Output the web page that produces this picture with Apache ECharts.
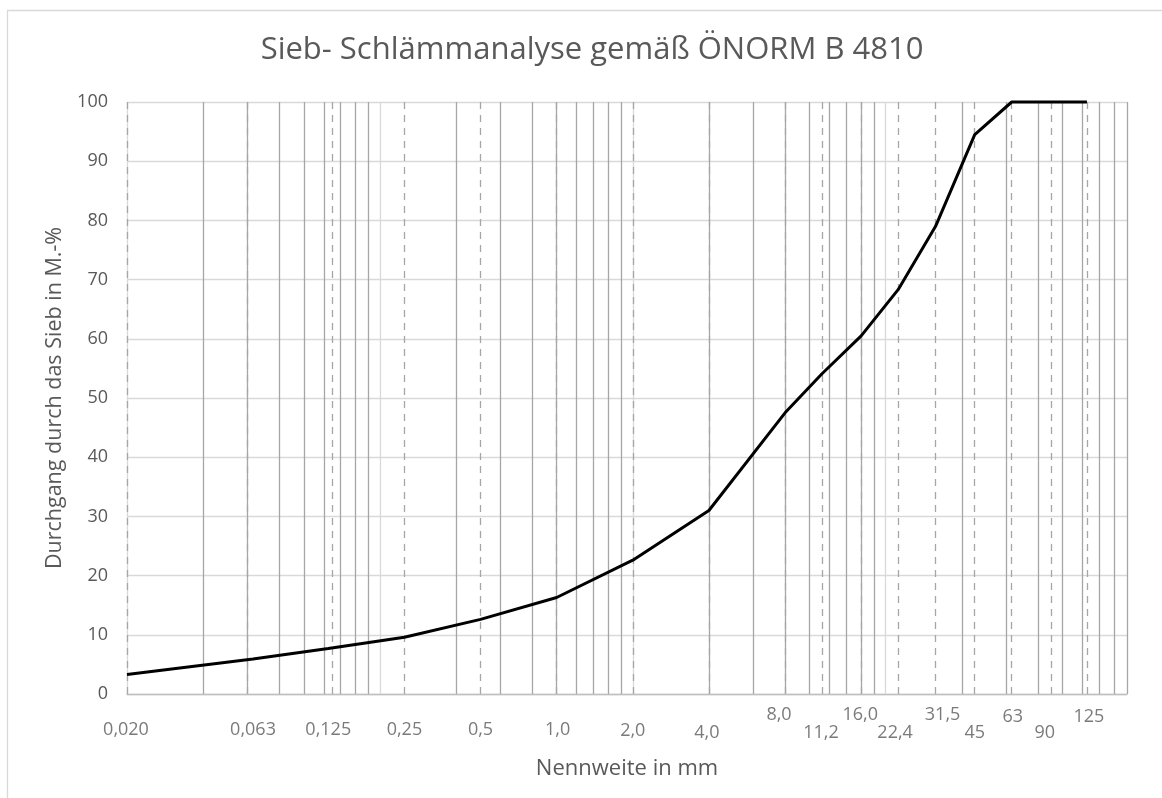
<!DOCTYPE html>
<html>
<head>
<meta charset="utf-8">
<script src="https://cdn.jsdelivr.net/npm/echarts@6/dist/echarts.min.js"></script>
<style>
html,body{margin:0;padding:0;background:#fff;}
#chart{width:1162px;height:798px;}
</style>
</head>
<body>
<div id="chart"></div>
<script>
// Sieve sizes (mm) and passing percentages
const sieves = [0.02, 0.063, 0.125, 0.25, 0.5, 1.0, 2.0, 4.0, 8.0, 11.2, 16.0, 22.4, 31.5, 45, 63, 90, 125];
const passing = [3.3, 5.9, 7.7, 9.6, 12.6, 16.3, 22.6, 31.0, 47.5, 54.1, 60.5, 68.3, 79.0, 94.5, 100, 100, 100];
const sieveLabels = ['0,020','0,063','0,125','0,25','0,5','1,0','2,0','4,0','8,0','11,2','16,0','22,4','31,5','45','63','90','125'];
// gridline positions of the log axis
const majorGrid = [0.02, 0.2, 2, 20];
const minorGrid = [0.04,0.06,0.08,0.1,0.12,0.14,0.16,0.18,
                   0.4,0.6,0.8,1.0,1.2,1.4,1.6,1.8,
                   4,6,8,10,12,14,16,18,
                   40,60,80,100,120,140,160,180];

// label placement (pixel offsets, style only)
const labelOffsets = [[-1,36],[0,36],[0,36],[0,36],[0,36],[1,36],[0,37],[-2,39],[-6,21],[-1,39],[-1,21],[-3,39],[7,21],[0,39],[1,23],[-6,39],[2,23]];

const grey = '#595959';
const chart = echarts.init(document.getElementById('chart'));

function vlines(values, style, z) {
  return {
    type: 'line', data: [], z: z, silent: true,
    markLine: {
      silent: true, symbol: 'none', animation: false,
      label: {show: false},
      lineStyle: style,
      data: values.map(v => ({xAxis: v}))
    }
  };
}

chart.setOption({
  animation: false,
  textStyle: {fontFamily: 'Open Sans'},
  title: {
    text: 'Sieb- Schlämmanalyse gemäß ÖNORM B 4810',
    left: 587, top: 30, textAlign: 'center',
    textStyle: {fontFamily: 'Open Sans', fontSize: 31, fontWeight: 'normal', color: grey}
  },
  graphic: [{
    type: 'rect', silent: true,
    shape: {x: 7.5, y: 10.5, width: 1300, height: 900},
    style: {fill: null, stroke: '#d9d9d9', lineWidth: 1.3}
  }],
  grid: {left: 127, right: 35, top: 102, bottom: 104, containLabel: false},
  xAxis: {
    type: 'log', logBase: 10, min: 0.02, max: 180,
    name: 'Nennweite in mm', nameLocation: 'middle', nameGap: 64,
    nameTextStyle: {fontFamily: 'Open Sans', fontSize: 22, color: grey},
    axisLabel: {show: false}, axisTick: {show: false},
    splitLine: {show: false}, minorSplitLine: {show: false},
    axisLine: {show: true, lineStyle: {color: '#bfbfbf', width: 1.3}}
  },
  yAxis: {
    type: 'value', min: 0, max: 100, interval: 10,
    name: 'Durchgang durch das Sieb in M.-%', nameLocation: 'middle', nameGap: 58,
    nameTextStyle: {fontFamily: 'Open Sans', fontSize: 21.5, color: grey},
    axisLabel: {color: grey, fontSize: 18, margin: 19, fontFamily: 'Open Sans'},
    axisTick: {show: false}, axisLine: {show: false},
    splitLine: {show: true, lineStyle: {color: '#d9d9d9', width: 1.3}}
  },
  series: [
    vlines(majorGrid, {color: '#d9d9d9', width: 1.3, type: 'solid'}, 1),
    vlines(sieves, {color: '#a6a6a6', width: 1.3, type: [7, 6]}, 2),
    vlines(minorGrid, {color: '#a6a6a6', width: 1.3, type: 'solid'}, 3),
    {
      type: 'line', name: 'Durchgang', z: 10,
      data: sieves.map((v, i) => [v, passing[i]]),
      showSymbol: false, symbol: 'none',
      lineStyle: {color: '#000', width: 3},
      clip: false
    },
    {
      type: 'scatter', z: 11, silent: true, clip: false,
      symbolSize: 1, itemStyle: {color: 'rgba(0,0,0,0)'},
      data: sieves.map((v, i) => ({
        value: [v, 0],
        label: {
          show: true, position: 'inside', formatter: sieveLabels[i],
          offset: labelOffsets[i], color: grey, fontSize: 18, fontFamily: 'Open Sans'
        }
      }))
    }
  ]
});
</script>
</body>
</html>
